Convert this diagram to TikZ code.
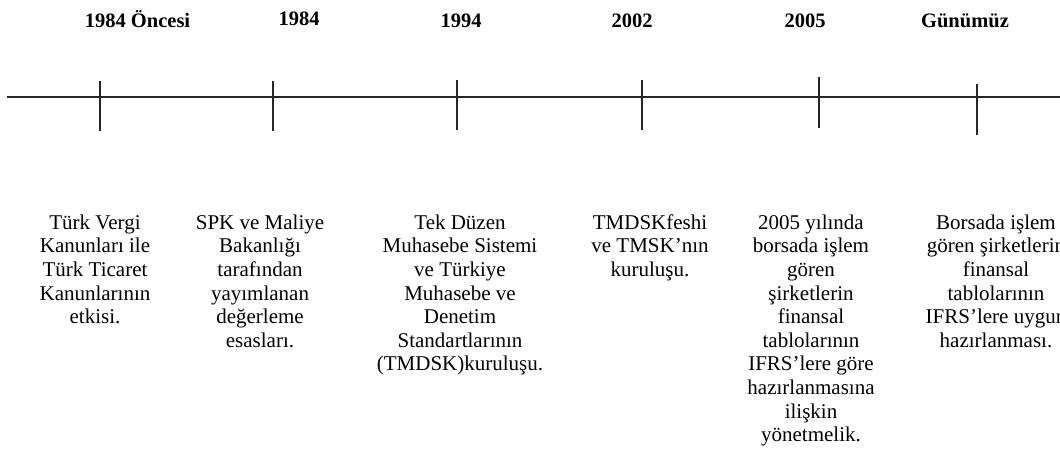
\documentclass[tikz,border=0pt]{standalone}
\usepackage{fontspec}
\setmainfont{Liberation Serif}
\tikzset{
  axisline/.style={line width=1.1pt, draw=black!85},
  tickline/.style={line width=1.1pt, draw=black!85},
  yearlbl/.style={font=\fontsize{20.5}{24}\selectfont\bfseries, anchor=base, inner sep=0pt},
  desc/.style={font=\fontsize{21}{23.6}\selectfont, align=center, anchor=north, inner sep=0pt},
}
\begin{document}
\begin{tikzpicture}[x=1pt,y=-1pt]
\clip (0,0) rectangle (1060,456);
\fill[white] (0,0) rectangle (1060,456);

% axis
\coordinate (axL) at (7,97);
\coordinate (axR) at (1075,97);
\draw[axisline] (axL) -- (axR);

% ticks
\coordinate (t1a) at (100,81);  \coordinate (t1b) at (100,131);
\coordinate (t2a) at (273,81);  \coordinate (t2b) at (273,131);
\coordinate (t3a) at (457,80);  \coordinate (t3b) at (457,130);
\coordinate (t4a) at (642,80);  \coordinate (t4b) at (642,130);
\coordinate (t5a) at (819,77);  \coordinate (t5b) at (819,128);
\coordinate (t6a) at (977,84);  \coordinate (t6b) at (977,135);
\draw[tickline] (t1a) -- (t1b);
\draw[tickline] (t2a) -- (t2b);
\draw[tickline] (t3a) -- (t3b);
\draw[tickline] (t4a) -- (t4b);
\draw[tickline] (t5a) -- (t5b);
\draw[tickline] (t6a) -- (t6b);

% year labels
\node[yearlbl] (y1) at (137.5,27) {1984 Öncesi};
\node[yearlbl] (y2) at (299,25) {1984};
\node[yearlbl] (y3) at (461,27) {1994};
\node[yearlbl] (y4) at (632,27) {2002};
\node[yearlbl] (y5) at (805,27) {2005};
\node[yearlbl] (y6) at (965,27) {Günümüz};

% descriptions
\node[desc] (d1) at (95,212.5) {\strut Türk Vergi\\Kanunları ile\\Türk Ticaret\\Kanunlarının\\etkisi.};
\node[desc] (d2) at (260,212.5) {\strut SPK ve Maliye\\Bakanlığı\\tarafından\\yayımlanan\\değerleme\\esasları.};
\node[desc] (d3) at (460,212.5) {\strut Tek Düzen\\Muhasebe Sistemi\\ve Türkiye\\Muhasebe ve\\Denetim\\Standartlarının\\(TMDSK)kuruluşu.};
\node[desc] (d4) at (650,212.5) {\strut TMDSKfeshi\\ve TMSK’nın\\kuruluşu.};
\node[desc] (d5) at (811,212.5) {\strut 2005 yılında\\borsada işlem\\gören\\şirketlerin\\finansal\\tablolarının\\IFRS’lere göre\\hazırlanmasına\\ilişkin\\yönetmelik.};
\node[desc] (d6) at (996,212.5) {\strut Borsada işlem\\gören şirketlerin\\finansal\\tablolarının\\IFRS’lere uygun\\hazırlanması.};
\end{tikzpicture}
\end{document}
